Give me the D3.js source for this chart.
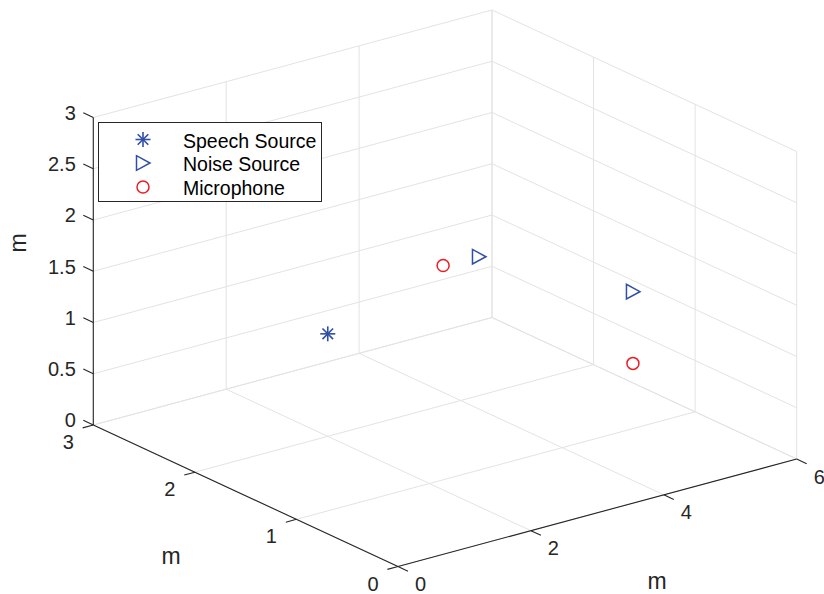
<!DOCTYPE html>
<html>
<head>
<meta charset="utf-8">
<script src="https://cdn.jsdelivr.net/npm/d3@7"></script>
<style>
  html, body { margin: 0; padding: 0; background: #ffffff; }
  svg { display: block; font-family: "Liberation Sans", Arial, Helvetica, sans-serif; }
</style>
</head>
<body>
<svg id="chart" width="824" height="594"></svg>
<script>
// ---------- data ----------
const seriesNames = ["Speech Source", "Noise Source", "Microphone"];
const speechX = [2];
const speechY = [2];
const speechZ = [1];
const noiseX = [3.97, 4.3];
const noiseY = [1.8, 0.5];
const noiseZ = [1.5, 1.7];
const micX = [4.5, 4.3];
const micY = [2.5, 0.5];
const micZ = [1, 1];
const xTicks = [0, 2, 4, 6];
const yTicks = [0, 1, 2, 3];
const zTicks = [0, 0.5, 1, 1.5, 2, 2.5, 3];
const zTickLabels = ["0", "0.5", "1", "1.5", "2", "2.5", "3"];
const axisLabel = "m";

// ---------- layout / projection ----------
const svg = d3.select("#chart");
const origin = [398, 566.5];          // screen position of (0,0,0)
const EX = [398.7, -107.5];           // screen vector of full x range
const EY = [-304.7, -141.5];          // screen vector of full y range
const EZ = [0, -307.5];               // screen vector of full z range

const xS = d3.scaleLinear().domain([0, 6]).range([0, 1]);
const yS = d3.scaleLinear().domain([0, 3]).range([0, 1]);
const zS = d3.scaleLinear().domain([0, 3]).range([0, 1]);

function P(x, y, z) {
  const a = xS(x), b = yS(y), c = zS(z);
  return [origin[0] + a * EX[0] + b * EY[0] + c * EZ[0],
          origin[1] + a * EX[1] + b * EY[1] + c * EZ[1]];
}
function unit(v) { const l = Math.hypot(v[0], v[1]); return [v[0] / l, v[1] / l]; }

const gridColor = "#e3e3e3";
const axisColor = "#262626";
const blue = "#2f4fa6";
const red = "#ee1d23";

const gGrid = svg.append("g");
function gline(g, p1, p2, color, w) {
  g.append("line").attr("x1", p1[0]).attr("y1", p1[1]).attr("x2", p2[0]).attr("y2", p2[1])
    .attr("stroke", color).attr("stroke-width", w).attr("stroke-linecap", "butt");
}

// floor grid (z=0)
xTicks.forEach(x => gline(gGrid, P(x, 0, 0), P(x, 3, 0), gridColor, 1));
yTicks.forEach(y => gline(gGrid, P(0, y, 0), P(6, y, 0), gridColor, 1));
// back wall y=3
xTicks.forEach(x => gline(gGrid, P(x, 3, 0), P(x, 3, 3), gridColor, 1));
zTicks.forEach(z => gline(gGrid, P(0, 3, z), P(6, 3, z), gridColor, 1));
// side wall x=6
yTicks.forEach(y => gline(gGrid, P(6, y, 0), P(6, y, 3), gridColor, 1));
zTicks.forEach(z => gline(gGrid, P(6, 0, z), P(6, 3, z), gridColor, 1));

// ---------- axes ----------
const gAxes = svg.append("g");
gline(gAxes, P(0, 0, 0), P(6, 0, 0), axisColor, 1.1);   // x axis
gline(gAxes, P(0, 0, 0), P(0, 3, 0), axisColor, 1.1);   // y axis
gline(gAxes, P(0, 3, 0), P(0, 3, 3), axisColor, 1.1);   // z axis

const tickLen = 11;
const dirNegY = unit([-EY[0], -EY[1]]);
const dirNegX = unit([-EX[0], -EX[1]]);
const dirPosY = unit(EY);

const fontTick = 20;
xTicks.forEach(x => {
  const p = P(x, 0, 0);
  gline(gAxes, p, [p[0] + dirNegY[0] * tickLen, p[1] + dirNegY[1] * tickLen], axisColor, 1.1);
  gAxes.append("text").attr("x", p[0] + 22.5).attr("y", p[1] + 17.5)
    .attr("text-anchor", "middle").attr("dominant-baseline", "central")
    .attr("font-size", fontTick).attr("fill", axisColor).text(x);
});
yTicks.forEach(y => {
  const p = P(0, y, 0);
  gline(gAxes, p, [p[0] + dirNegX[0] * tickLen, p[1] + dirNegX[1] * tickLen], axisColor, 1.1);
  gAxes.append("text").attr("x", p[0] - 25).attr("y", p[1] + 17)
    .attr("text-anchor", "middle").attr("dominant-baseline", "central")
    .attr("font-size", fontTick).attr("fill", axisColor).text(y);
});
zTicks.forEach((z, i) => {
  const p = P(0, 3, z);
  const e = [p[0] + dirPosY[0] * tickLen, p[1] + dirPosY[1] * tickLen];
  gline(gAxes, p, e, axisColor, 1.1);
  gAxes.append("text").attr("x", e[0] - 7.5).attr("y", e[1])
    .attr("text-anchor", "end").attr("dominant-baseline", "central")
    .attr("font-size", fontTick).attr("fill", axisColor).text(zTickLabels[i]);
});

// axis labels
const fontLabel = 23;
svg.append("text").attr("x", 657).attr("y", 589).attr("text-anchor", "middle")
  .attr("font-size", fontLabel).attr("fill", axisColor).text(axisLabel);
svg.append("text").attr("x", 171).attr("y", 564).attr("text-anchor", "middle")
  .attr("font-size", fontLabel).attr("fill", axisColor).text(axisLabel);
svg.append("text").attr("transform", "translate(26,243) rotate(-90)").attr("text-anchor", "middle")
  .attr("font-size", fontLabel).attr("fill", axisColor).text(axisLabel);

// ---------- markers ----------
function drawAsterisk(g, cx, cy, r, color) {
  const d = r * Math.SQRT1_2;
  const segs = [[0, -r, 0, r], [-r, 0, r, 0], [-d, -d, d, d], [-d, d, d, -d]];
  segs.forEach(s => g.append("line").attr("x1", cx + s[0]).attr("y1", cy + s[1])
    .attr("x2", cx + s[2]).attr("y2", cy + s[3]).attr("stroke", color).attr("stroke-width", 1.6));
}
function drawTriangle(g, cx, cy, color) {
  const pts = [[-6.5, -7.3], [-6.5, 7.3], [7, 0]].map(p => [cx + p[0], cy + p[1]]);
  g.append("path").attr("d", d3.line()(pts) + "Z").attr("fill", "none")
    .attr("stroke", color).attr("stroke-width", 1.5).attr("stroke-linejoin", "miter");
}
function drawCircle(g, cx, cy, color) {
  g.append("circle").attr("cx", cx).attr("cy", cy).attr("r", 6)
    .attr("fill", "none").attr("stroke", color).attr("stroke-width", 1.5);
}

const gMarks = svg.append("g");
speechX.forEach((x, i) => { const p = P(x, speechY[i], speechZ[i]); drawAsterisk(gMarks, p[0], p[1], 7.5, blue); });
noiseX.forEach((x, i) => { const p = P(x, noiseY[i], noiseZ[i]); drawTriangle(gMarks, p[0], p[1], blue); });
micX.forEach((x, i) => { const p = P(x, micY[i], micZ[i]); drawCircle(gMarks, p[0], p[1], red); });

// ---------- legend ----------
const gLeg = svg.append("g");
gLeg.append("rect").attr("x", 98.5).attr("y", 122.5).attr("width", 223).attr("height", 79)
  .attr("fill", "#ffffff").attr("stroke", axisColor).attr("stroke-width", 1);
const legY = [139.5, 163, 187];
const legDraw = [
  (x, y) => drawAsterisk(gLeg, x, y, 7.5, blue),
  (x, y) => drawTriangle(gLeg, x, y, blue),
  (x, y) => drawCircle(gLeg, x, y, red)
];
seriesNames.forEach((name, i) => {
  legDraw[i](143, legY[i]);
  gLeg.append("text").attr("x", 183).attr("y", legY[i] + 1).attr("dominant-baseline", "central")
    .attr("font-size", 19.5).attr("fill", "#000000").text(name);
});
</script>
</body>
</html>
